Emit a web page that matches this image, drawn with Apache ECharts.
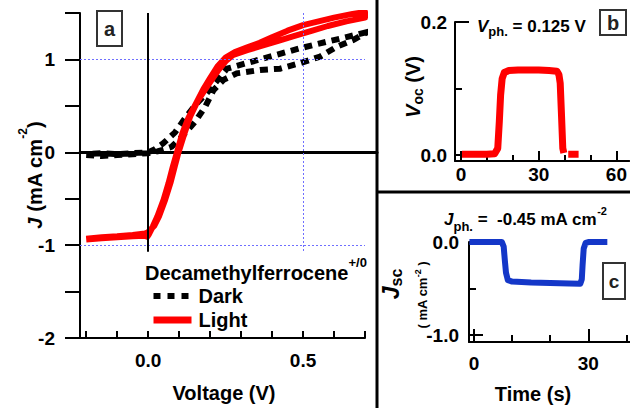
<!DOCTYPE html>
<html><head><meta charset="utf-8">
<script src="https://cdn.jsdelivr.net/npm/echarts@6/dist/echarts.min.js"></script>
<style>html,body{margin:0;padding:0;background:#fff}#c{width:630px;height:408px}</style>
</head><body><div id="c"></div>
<script>
// ---------- Panel a: J-V curves (Decamethylferrocene+/0) ----------
const darkV = [-0.2,-0.15,-0.1,-0.05,0,0.03,0.05,0.076,0.11,0.152,0.184,0.211,0.243,0.286,0.361,0.426,0.49,0.555,0.609,0.662,0.7,
               0.7,0.64,0.576,0.49,0.415,0.318,0.254,0.232,0.189,0.152,0.119,0.087,0.049,0.02,0,-0.05,-0.1,-0.15,-0.2];
const darkJ = [-0.03,-0.04,-0.03,-0.02,-0.01,0.01,0.03,0.06,0.17,0.33,0.49,0.67,0.78,0.85,0.886,0.9,0.96,1.03,1.137,1.21,1.28,
               1.29,1.24,1.19,1.12,1.05,0.96,0.9,0.81,0.635,0.509,0.366,0.215,0.097,0.03,0.0,-0.01,-0.02,-0.01,-0.02];
const lightV = [-0.2,-0.15,-0.1,-0.05,-0.01,0.0,0.02,0.035,0.055,0.072,0.086,0.098,0.117,0.135,0.161,0.193,0.228,0.25,0.275,0.32,0.36,0.42,0.47,0.53,0.58,0.64,0.7,
                0.7,0.66,0.6,0.55,0.5,0.45,0.4,0.36,0.32,0.28,0.25,0.225,0.2,0.18,0.155,0.13,0.11,0.093,0.08,0.066,0.05,0.03,0.015,0.003,-0.003,-0.01,-0.05,-0.1,-0.15,-0.2];
const lightJ = [-0.93,-0.915,-0.905,-0.89,-0.875,-0.86,-0.79,-0.69,-0.51,-0.33,-0.15,0.0,0.2,0.38,0.56,0.72,0.89,0.98,1.05,1.1,1.14,1.2,1.25,1.31,1.36,1.41,1.45,
                1.51,1.49,1.45,1.41,1.37,1.31,1.24,1.18,1.13,1.08,1.02,0.93,0.8,0.69,0.53,0.37,0.2,0.0,-0.15,-0.33,-0.51,-0.69,-0.8,-0.88,-0.91,-0.9,-0.905,-0.915,-0.925,-0.94];
const aXTicks = [-0.2,-0.1,0.0,0.1,0.2,0.3,0.4,0.5,0.6,0.7];
const aXLabels = [0.0, 0.5];
const aYTicks = [-2,-1.5,-1,-0.5,0,0.5,1,1.5];
const aYLabels = [-2,-1,0,1];
const seriesNames = ['Dark','Light'];

// ---------- Panel b: Voc vs time ----------
const bTime = [0.4,5,10,13.0,14.2,14.8,15.3,15.9,16.7,18.5,22,26,30,34,37.0,37.8,38.3,38.8,39.3,39.7,40.5,41.4,45.4];
const bVoc  = [0.001,0.001,0.001,0.002,0.01,0.05,0.09,0.115,0.124,0.127,0.128,0.128,0.128,0.127,0.126,0.121,0.108,0.06,0.01,0.003,null,0.001,0.001];
const bXTicksMajor = [0,30,60];
const bXTicksMinor = [10,20,40,50];
const bYTicksMajor = [0,0.2];
const bYTicksMinor = [0.1];

// ---------- Panel c: Jsc vs time ----------
const cTime = [-1.2,4,7.3,7.8,8.1,8.4,8.9,10,15,20,25,27.9,28.3,28.5,28.8,29.3,30.2,35.0];
const cJsc  = [0.0,0.0,0.0,-0.05,-0.2,-0.33,-0.41,-0.425,-0.435,-0.44,-0.445,-0.448,-0.4,-0.25,-0.07,-0.01,0.0,0.0];
const cXTicksMajor = [0,30];
const cXTicksMinor = [10,20,40];
const cYTicksMajor = [-1,0];
const cYTicksMinor = [-0.5];

const FF = 'Liberation Sans';
const pairs = (xs, ys) => xs.map((x, i) => [x, ys[i] === null ? '-' : ys[i]]);
const lab = (size) => ({fontFamily: FF, fontWeight: 'bold', fontSize: size, color: '#000'});
const bold = (size, extra) => Object.assign({fontFamily: FF, fontWeight: 'bold', fontSize: size, fill: '#000'}, extra || {});
const AL = (w) => ({onZero: false, lineStyle: {color: '#000', width: w}});
const noSplit = {show: false};
const gridDot = {color: '#6f6fff', width: 1, type: [2, 2]};
const darkLine = {color: '#000', width: 6, type: [8, 6], cap: 'butt', join: 'miter'};
const lightLine = {color: '#ff0000', width: 6, join: 'round'};

const chart = echarts.init(document.getElementById('c'), null, {renderer: 'svg', width: 630, height: 408});

const option = {
  animation: false,
  backgroundColor: '#fff',
  grid: [
    {left: 80, top: 13, width: 285, height: 325},
    {left: 80, top: 13, width: 297, height: 325},
    {left: 455, top: 22, width: 175, height: 139},
    {left: 455, top: 22, width: 175, height: 139},
    {left: 469, top: 242, width: 161, height: 100},
    {left: 469, top: 242, width: 161, height: 100}
  ],
  xAxis: [
    {gridIndex: 0, type: 'value', min: -0.22, max: 0.7, axisLine: AL(2), splitLine: noSplit,
     axisTick: {inside: true, length: 7, customValues: aXTicks, lineStyle: {color: '#000', width: 2}},
     axisLabel: Object.assign(lab(19), {customValues: aXLabels, margin: 13, formatter: v => v.toFixed(1)})},
    {gridIndex: 1, type: 'value', min: 0, max: 1, splitLine: noSplit,
     axisLine: {onZero: true, lineStyle: {color: '#000', width: 3}}, axisTick: {show: false}, axisLabel: {show: false}},
    {gridIndex: 2, type: 'value', min: -2.3, max: 65, axisLine: AL(2), splitLine: noSplit,
     axisTick: {inside: true, length: 10, customValues: bXTicksMajor, lineStyle: {color: '#000', width: 2}},
     axisLabel: Object.assign(lab(19), {customValues: bXTicksMajor, margin: 4, formatter: v => String(v)})},
    {gridIndex: 3, type: 'value', min: -2.3, max: 65, axisLine: {show: false, onZero: false}, splitLine: noSplit,
     axisTick: {inside: true, length: 6, customValues: bXTicksMinor, lineStyle: {color: '#000', width: 2}},
     axisLabel: {show: false}},
    {gridIndex: 4, type: 'value', min: -1.31, max: 40.95, axisLine: AL(2), splitLine: noSplit,
     axisTick: {inside: true, length: 13, customValues: cXTicksMajor, lineStyle: {color: '#000', width: 2}},
     axisLabel: Object.assign(lab(19), {customValues: cXTicksMajor, margin: 12, formatter: v => String(v)})},
    {gridIndex: 5, type: 'value', min: -1.31, max: 40.95, axisLine: {show: false, onZero: false}, splitLine: noSplit,
     axisTick: {inside: true, length: 7, customValues: cXTicksMinor, lineStyle: {color: '#000', width: 2}},
     axisLabel: {show: false}}
  ],
  yAxis: [
    {gridIndex: 0, type: 'value', min: -2, max: 1.5, axisLine: AL(2), splitLine: noSplit,
     axisTick: {inside: false, length: 15, customValues: aYTicks, lineStyle: {color: '#000', width: 2}},
     axisLabel: Object.assign(lab(19), {customValues: aYLabels, margin: 25, formatter: v => String(v)})},
    {gridIndex: 1, type: 'value', min: -2, max: 1.5, show: false},
    {gridIndex: 2, type: 'value', min: -0.009, max: 0.2, axisLine: AL(2), splitLine: noSplit,
     axisTick: {inside: true, length: 14, customValues: bYTicksMajor, lineStyle: {color: '#000', width: 2}},
     axisLabel: Object.assign(lab(19), {customValues: bYTicksMajor, margin: 8, formatter: v => v.toFixed(1)})},
    {gridIndex: 3, type: 'value', min: -0.009, max: 0.2, axisLine: {show: false, onZero: false}, splitLine: noSplit,
     axisTick: {inside: true, length: 7, customValues: bYTicksMinor, lineStyle: {color: '#000', width: 2}},
     axisLabel: {show: false}},
    {gridIndex: 4, type: 'value', min: -1.075, max: 0, axisLine: AL(2), splitLine: noSplit,
     axisTick: {inside: true, length: 14, customValues: cYTicksMajor, lineStyle: {color: '#000', width: 2}},
     axisLabel: Object.assign(lab(19), {customValues: cYTicksMajor, margin: 10, formatter: v => v.toFixed(1)})},
    {gridIndex: 5, type: 'value', min: -1.075, max: 0, axisLine: {show: false, onZero: false}, splitLine: noSplit,
     axisTick: {inside: true, length: 7, customValues: cYTicksMinor, lineStyle: {color: '#000', width: 2}},
     axisLabel: {show: false}}
  ],
  legend: {
    data: [
      {name: seriesNames[0], lineStyle: {width: 6, type: [7, 7], color: '#000', cap: 'butt'}},
      {name: seriesNames[1], lineStyle: {width: 7, type: 'solid', color: '#ff0000'}}
    ],
    left: 150, top: 286, orient: 'vertical', padding: 0,
    itemWidth: 38, itemHeight: 14, itemGap: 4, selectedMode: false,
    itemStyle: {opacity: 0, borderWidth: 0, color: 'rgba(0,0,0,0)', borderColor: 'rgba(0,0,0,0)'},
    textStyle: {fontFamily: FF, fontWeight: 'bold', fontSize: 20, color: '#000', lineHeight: 20, padding: [0, 0, 0, 2]}
  },
  series: [
    {name: seriesNames[0], type: 'line', xAxisIndex: 0, yAxisIndex: 0, data: pairs(darkV, darkJ),
     symbol: 'none', showSymbol: false, z: 2, color: '#000', lineStyle: darkLine,
     markLine: {
       silent: true, symbol: ['none', 'none'], label: {show: false}, animation: false,
       data: [
         [{coord: [-0.22, 1], lineStyle: gridDot}, {coord: [0.7, 1]}],
         [{coord: [-0.22, -1], lineStyle: gridDot}, {coord: [0.7, -1]}],
         [{coord: [0.5, 1.5], lineStyle: gridDot}, {coord: [0.5, -1.07]}],
         [{coord: [0, 1.5], lineStyle: {color: '#000', width: 2, type: 'solid'}}, {coord: [0, -1.07]}]
       ]
     }},
    {name: seriesNames[1], type: 'line', xAxisIndex: 0, yAxisIndex: 0, data: pairs(lightV, lightJ),
     symbol: 'none', showSymbol: false, z: 3, color: '#ff0000', lineStyle: lightLine},
    {name: 'Voc', type: 'line', xAxisIndex: 2, yAxisIndex: 2, data: pairs(bTime, bVoc), clip: false,
     symbol: 'none', showSymbol: false, connectNulls: false, z: 3,
     lineStyle: {color: '#ff0000', width: 7, join: 'round'}},
    {name: 'Jsc', type: 'line', xAxisIndex: 4, yAxisIndex: 4, data: pairs(cTime, cJsc), clip: false,
     symbol: 'none', showSymbol: false, z: 3,
     lineStyle: {color: '#1437c8', width: 6, join: 'round'}}
  ],
  graphic: {elements: [
    {type: 'line', shape: {x1: 377, y1: 0, x2: 377, y2: 408}, style: {stroke: '#000', lineWidth: 3}},
    {type: 'line', shape: {x1: 377, y1: 192, x2: 630, y2: 192}, style: {stroke: '#000', lineWidth: 3}},
    // panel boxes
    {type: 'rect', shape: {x: 97, y: 11, width: 25, height: 35}, style: {fill: '#fff', stroke: '#333', lineWidth: 2}},
    {type: 'text', x: 109.5, y: 29, style: bold(20, {text: 'a', align: 'center', verticalAlign: 'middle', fill: '#222'})},
    {type: 'rect', shape: {x: 600, y: 10, width: 26, height: 25}, style: {fill: '#fff', stroke: '#333', lineWidth: 2}},
    {type: 'text', x: 613, y: 23, style: bold(20, {text: 'b', align: 'center', verticalAlign: 'middle', fill: '#222'})},
    {type: 'rect', shape: {x: 603, y: 263, width: 22, height: 36}, style: {fill: '#fff', stroke: '#333', lineWidth: 2}},
    {type: 'text', x: 614, y: 281, style: bold(19, {text: 'c', align: 'center', verticalAlign: 'middle', fill: '#222'})},
    // axis titles
    {type: 'text', x: 224, y: 393, style: bold(20, {text: 'Voltage (V)', align: 'center', verticalAlign: 'middle'})},
    {type: 'text', x: 533, y: 394, style: bold(20, {text: 'Time (s)', align: 'center', verticalAlign: 'middle'})},
    {type: 'text', x: 35, y: 175, rotation: Math.PI / 2, style: {
      text: '{j|J}{t| (mA cm}{s|-2}{t|)}', align: 'center', verticalAlign: 'middle',
      rich: {j: bold(20, {fontStyle: 'italic', lineHeight: 36}), t: bold(20, {lineHeight: 36}), s: bold(12, {lineHeight: 36, verticalAlign: 'top'})}}},
    {type: 'text', x: 413, y: 87, rotation: Math.PI / 2, style: {
      text: '{v|V}{o|oc}{t| (V)}', align: 'center', verticalAlign: 'middle',
      rich: {v: bold(20, {fontStyle: 'italic', lineHeight: 24}), o: bold(14, {lineHeight: 24, verticalAlign: 'bottom'}), t: bold(20, {lineHeight: 24})}}},
    {type: 'text', x: 391, y: 284, rotation: Math.PI / 2, style: {
      text: '{j|J}{s|sc}', align: 'center', verticalAlign: 'middle',
      rich: {j: bold(23, {fontStyle: 'italic', lineHeight: 26}), s: bold(16, {lineHeight: 26, verticalAlign: 'bottom'})}}},
    {type: 'text', x: 422, y: 295, rotation: Math.PI / 2, style: {
      text: '{t|( mA cm}{s|-2}{t| )}', align: 'center', verticalAlign: 'middle',
      rich: {t: bold(13, {lineHeight: 18}), s: bold(9, {lineHeight: 18, verticalAlign: 'top'})}}},
    // annotations
    {type: 'text', x: 145, y: 273, style: {
      text: '{t|Decamethylferrocene}{s|+/0}', align: 'left', verticalAlign: 'middle',
      rich: {t: bold(20, {lineHeight: 34}), s: bold(13, {lineHeight: 34, verticalAlign: 'top'})}}},
    {type: 'text', x: 477, y: 26, style: {
      text: '{v|V}{p|ph.}{t| = 0.125 V}', align: 'left', verticalAlign: 'middle',
      rich: {v: bold(17, {fontStyle: 'italic', lineHeight: 24}), p: bold(13, {lineHeight: 24, verticalAlign: 'bottom'}), t: bold(17, {lineHeight: 24})}}},
    {type: 'text', x: 444, y: 219, style: {
      text: '{j|J}{p|ph.}{t| =  -0.45 mA cm}{s|-2}', align: 'left', verticalAlign: 'middle',
      rich: {j: bold(17, {fontStyle: 'italic', lineHeight: 24}), p: bold(13, {lineHeight: 24, verticalAlign: 'bottom'}),
             t: bold(17, {lineHeight: 24}), s: bold(11, {lineHeight: 28, verticalAlign: 'top'})}}}
  ]}
};
chart.setOption(option);
</script>
</body></html>
